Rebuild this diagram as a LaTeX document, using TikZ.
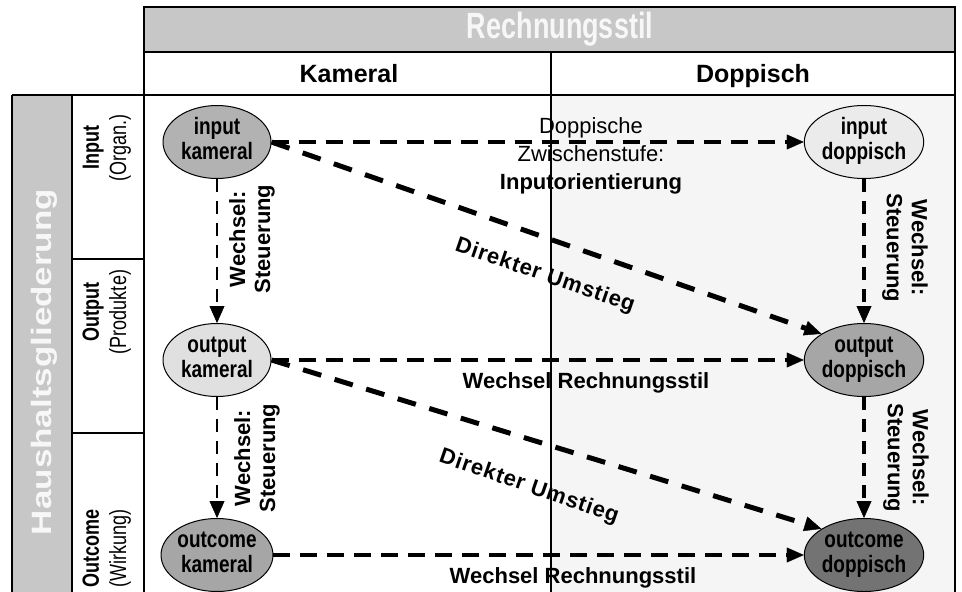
\documentclass[tikz,border=0pt]{standalone}
\usepackage{fontspec}
\setmainfont{Liberation Sans}
\newfontfamily\spacedfont[LetterSpace=4]{Liberation Sans}
\usetikzlibrary{shapes.geometric,arrows.meta}
\newcommand{\tallbox}[2][1.25]{\scalebox{1}[#1]{\begin{tabular}{@{}c@{}}#2\end{tabular}}}
\begin{document}
\begin{tikzpicture}[x=1pt,y=-1pt,
  gridline/.style={line width=1.3pt},
  band/.style={fill=black!22},
  state/.style={ellipse, draw, line width=1pt, minimum width=108pt, minimum height=73pt,
    inner sep=0pt, align=center, font=\fontsize{19}{19.5}\selectfont\bfseries},
  tip/.style={-{Triangle[length=17pt,width=15pt,line width=0.4pt]}},
  hor/.style={tip, line width=3.5pt, dash pattern=on 17pt off 10pt},
  verl/.style={tip, line width=2.8pt, dash pattern=on 13pt off 9pt},
  verr/.style={tip, line width=4pt, dash pattern=on 13pt off 9pt},
  diag/.style={tip, line width=5pt, dash pattern=on 19pt off 14pt},
  lab/.style={font=\fontsize{22}{28}\selectfont, align=center, inner sep=0pt},
  blab/.style={font=\fontsize{22}{25}\selectfont\bfseries, align=center, inner sep=0pt},
  dlab/.style={font=\fontsize{22}{25}\selectfont\spacedfont\bfseries, inner sep=0pt},
  rowlab/.style={rotate=90, align=center, inner sep=0pt, font=\fontsize{18}{21}\selectfont},
  head/.style={font=\fontsize{25}{28}\selectfont\bfseries, inner sep=0pt, anchor=base}
]
\useasboundingbox (0,0) rectangle (962,592);
% backgrounds
\fill[black!4] (551,95) rectangle (955,592);
\fill[band] (144,7) rectangle (955,52);
\fill[band] (12,95) rectangle (72,592);
% grid
\draw[gridline] (144,592) -- (144,7) -- (955,7) -- (955,592);
\draw[gridline] (144,52) -- (955,52);
\draw[gridline] (12,95) -- (955,95);
\draw[gridline] (551,52) -- (551,592);
\draw[line width=1.8pt] (12,592) -- (12,95);
\draw[gridline] (72,95) -- (72,592);
\draw[gridline] (72,259) -- (144,259);
\draw[gridline] (72,433) -- (144,433);
% headers
\node[text=black!3, inner sep=0pt] (rs) at (560,29) {\scalebox{1}[1.35]{\fontsize{27}{30}\selectfont\bfseries Rechnungsstil}};
\node[text=black!3, inner sep=0pt, rotate=90] (hg) at (44,362) {\scalebox{1.25}[1]{\fontsize{28}{30}\selectfont\bfseries Haushaltsgliederung}};
\node[head] (kam) at (349,82) {Kameral};
\node[head] (dop) at (753,82) {Doppisch};
\node[rowlab] (r1) at (107,148) {\tallbox[1.3]{\textbf{Input}\\(Organ.)}};
\node[rowlab] (r2) at (107,312) {\tallbox[1.3]{\textbf{Output}\\(Produkte)}};
\node[rowlab] (r3) at (107,548) {\tallbox[1.3]{\textbf{Outcome}\\(Wirkung)}};
% states
\node[state, fill=black!30] (ik) at (217,142) {\tallbox{input\\kameral}};
\node[state, fill=black!12] (ok) at (217,360) {\tallbox{output\\kameral}};
\node[state, fill=black!35] (ck) at (217,555) {\tallbox{outcome\\kameral}};
\node[state, fill=black!8] (id) at (864,142) {\tallbox{input\\doppisch}};
\node[state, fill=black!35] (od) at (864,360) {\tallbox{output\\doppisch}};
\node[state, fill=black!55] (cd) at (864,555) {\tallbox{outcome\\doppisch}};
% connectors
\draw[hor] (ik.east) -- (id.west);
\draw[hor] (ok.east) -- (od.west);
\draw[hor] (ck.east) -- (cd.west);
\draw[verl] (ik.south) -- (ok.north);
\draw[verl] (ok.south) -- (ck.north);
\draw[verr] (id.south) -- (od.north);
\draw[verr] (od.south) -- (cd.north);
\draw[diag] (ik.east) -- (od.north west);
\draw[diag] (ok.east) -- (cd.north west);
% labels
\node[lab] (zw) at (591,156) {Doppische\\Zwischenstufe:\\\textbf{Inputorientierung}};
\node[blab] (w1) at (586,383) {Wechsel Rechnungsstil};
\node[blab] (w2) at (573,578) {Wechsel Rechnungsstil};
\node[blab, rotate=90] (s1) at (252,239) {Wechsel:\\Steuerung};
\node[blab, rotate=90] (s2) at (257,458) {Wechsel:\\Steuerung};
\node[blab, rotate=-90] (s3) at (905,248) {Wechsel:\\Steuerung};
\node[blab, rotate=-90] (s4) at (906,458) {Wechsel:\\Steuerung};
\node[dlab, rotate=-19] (d1) at (545,276) {Direkter Umstieg};
\node[dlab, rotate=-19] (d2) at (529,487) {Direkter Umstieg};
\end{tikzpicture}
\end{document}
